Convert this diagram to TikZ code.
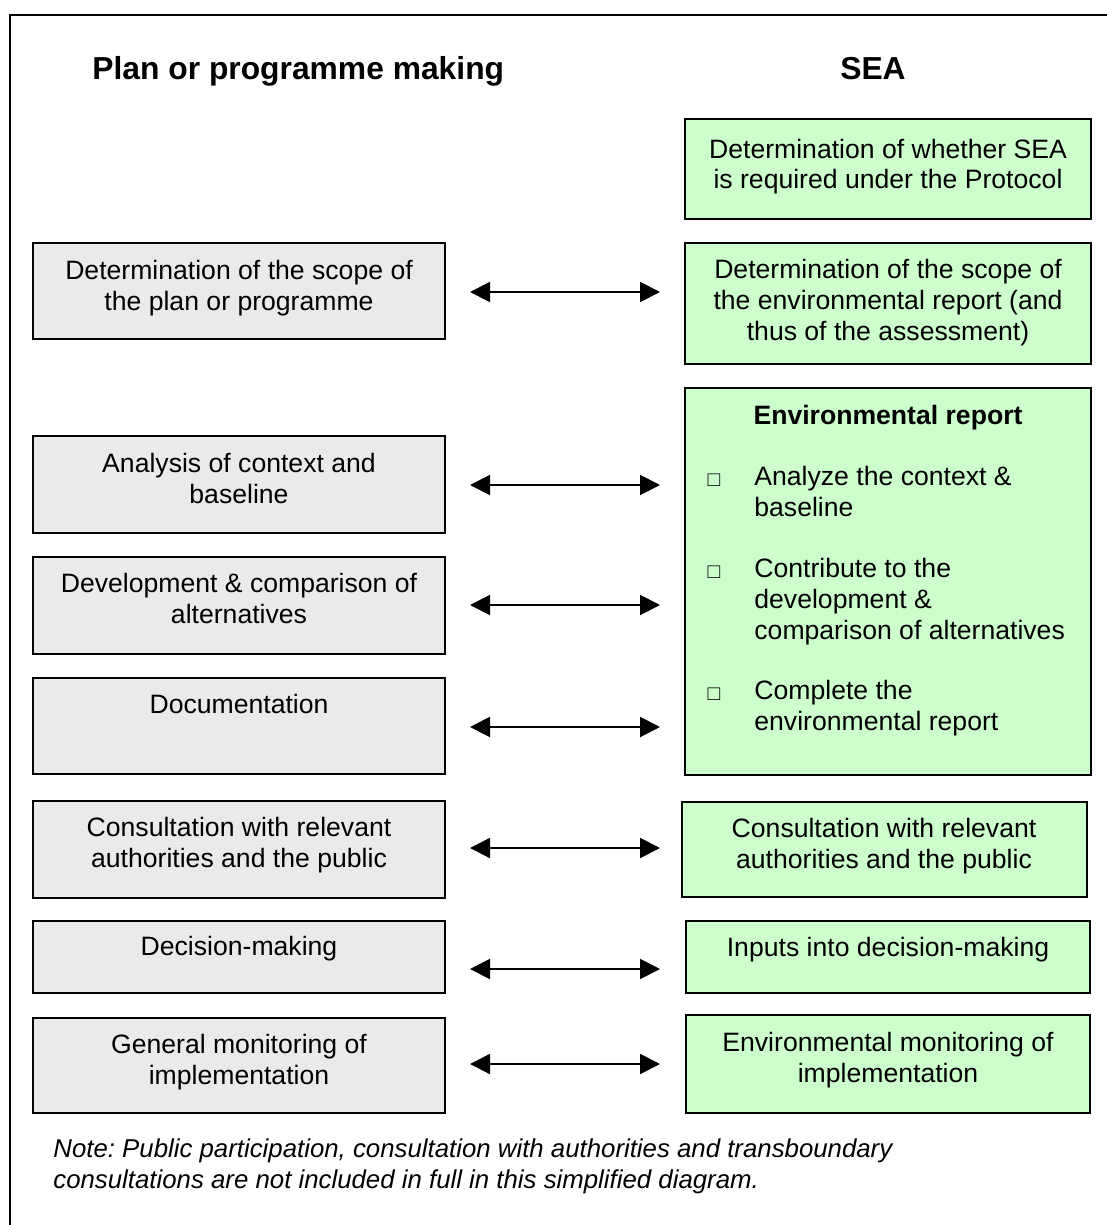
\documentclass[tikz,border=0pt]{standalone}
\usepackage{fontspec}
\setmainfont{Liberation Sans}
\usetikzlibrary{arrows.meta,fit}
\definecolor{planfill}{HTML}{EAEAEA}
\definecolor{seafill}{HTML}{CCFFCC}
\frenchspacing
\begin{document}
\begin{tikzpicture}[x=0.5pt,y=-0.5pt,
  box/.style={draw=black, line width=0.8pt, inner sep=0pt},
  planbox/.style={box, fill=planfill},
  seabox/.style={box, fill=seafill},
  % multi-line nodes are anchored at the baseline of their last line
  txt/.style={font=\fontsize{13.3pt}{15.3pt}\selectfont, align=center, inner sep=0pt, anchor=base},
  itemtxt/.style={txt, align=left, anchor=base west},
  bullet/.style={font=\fontsize{10.5pt}{11pt}\selectfont, inner sep=0pt, anchor=base},
  head/.style={font=\fontsize{15.9pt}{18pt}\selectfont\bfseries, inner sep=0pt},
  note/.style={font=\fontsize{12.9pt}{15.3pt}\selectfont\itshape, align=left, inner sep=0pt, anchor=base west},
  link/.style={line width=1pt, {Triangle[length=10pt,width=10pt]}-{Triangle[length=10pt,width=10pt]}}
]
\useasboundingbox (0,0) rectangle (1107,1225);
\fill[white] (0,0) rectangle (1107,1225);

% outer frame (open to the right and bottom)
\draw[line width=1pt] (10,1225) -- (10,15) -- (1107,15);

% column headings
\node[head, anchor=base west] (hplan) at (92,80) {Plan or programme making};
\node[head, anchor=base] (hsea) at (873,80) {SEA};

% plan or programme making column
\node[planbox, fit={(33,243) (445,339)}] (L1) {};
\node[planbox, fit={(33,436) (445,533)}] (L2) {};
\node[planbox, fit={(33,557) (445,654)}] (L3) {};
\node[planbox, fit={(33,678) (445,774)}] (L4) {};
\node[planbox, fit={(33,801) (445,898)}] (L5) {};
\node[planbox, fit={(33,921) (445,993)}] (L6) {};
\node[planbox, fit={(33,1018) (445,1113)}] (L7) {};

\node[txt] (tL1) at (239,310) {Determination of the scope of\\the plan or programme};
\node[txt] (tL2) at (239,503) {Analysis of context and\\baseline};
\node[txt] (tL3) at (239,623) {Development \& comparison of\\alternatives};
\node[txt] (tL4) at (239,713) {Documentation};
\node[txt] (tL5) at (239,867) {Consultation with relevant\\authorities and the public};
\node[txt] (tL6) at (239,955) {Decision-making};
\node[txt] (tL7) at (239,1084) {General monitoring of\\implementation};

% SEA column
\node[seabox, fit={(685,119) (1091,219)}] (R0) {};
\node[seabox, fit={(685,243) (1091,364)}] (R1) {};
\node[seabox, fit={(685,388) (1091,775)}] (R2) {};
\node[seabox, fit={(682,802) (1087,897)}] (R3) {};
\node[seabox, fit={(686,921) (1090,993)}] (R4) {};
\node[seabox, fit={(686,1015) (1090,1113)}] (R5) {};

\node[txt] (tR0) at (888,189) {Determination of whether SEA\\is required under the Protocol};
\node[txt] (tR1) at (888,340) {Determination of the scope of\\the environmental report (and\\thus of the assessment)};
\node[txt, font=\fontsize{13.3pt}{15.3pt}\selectfont\bfseries] (tR2) at (888,424) {Environmental report};
\node[bullet] (b1) at (714,486) {□};
\node[itemtxt] (i1) at (754,516) {Analyze the context \&\\baseline};
\node[bullet] (b2) at (714,578) {□};
\node[itemtxt] (i2) at (754,639) {Contribute to the\\development \&\\comparison of alternatives};
\node[bullet] (b3) at (714,700) {□};
\node[itemtxt] (i3) at (754,730) {Complete the\\environmental report};
\node[txt] (tR3) at (884,868) {Consultation with relevant\\authorities and the public};
\node[txt] (tR4) at (888,956) {Inputs into decision-making};
\node[txt] (tR5) at (888,1082) {Environmental monitoring of\\implementation};

% two-way links between the columns
\foreach \i/\y in {1/292,2/485,3/605,4/727,5/848,6/969,7/1064}{
  \coordinate (a\i) at (470,\y);
  \coordinate (b\i) at (660,\y);
  \draw[link] (a\i) -- (b\i);
}

% note
\node[note] (nt) at (53,1188) {Note: Public participation, consultation with authorities and transboundary\\consultations are not included in full in this simplified diagram.};
\end{tikzpicture}
\end{document}
